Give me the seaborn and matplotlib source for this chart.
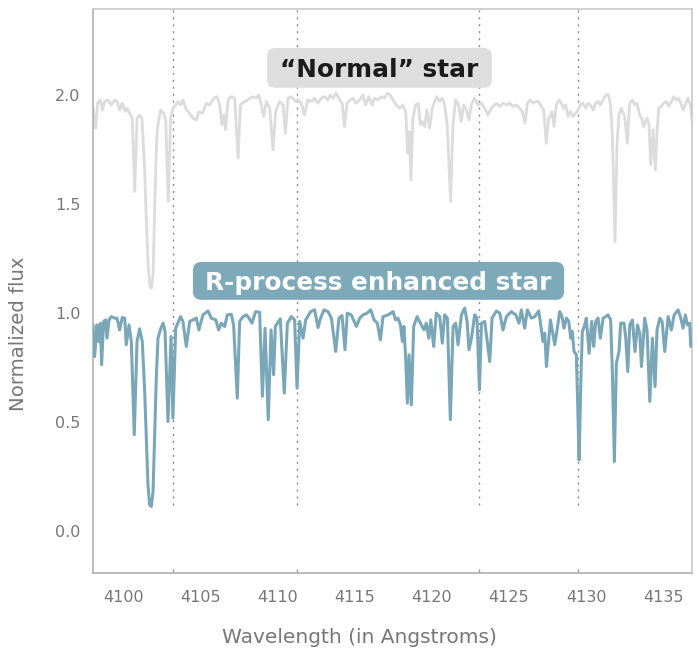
import matplotlib
matplotlib.use('Agg')
import matplotlib.pyplot as plt
from matplotlib.patches import FancyBboxPatch
import seaborn as sns
import pandas as pd

# wavelength / flux (normal star shifted up by ~1)
normal_wave = [
    4097.99, 4098.16, 4098.29, 4098.47, 4098.60, 4098.75, 4098.96, 4099.18, 4099.40, 4099.55,
    4099.72, 4099.89, 4100.07, 4100.22, 4100.37, 4100.54, 4100.70, 4100.85, 4101.02, 4101.17,
    4101.34, 4101.45, 4101.56, 4101.67, 4101.78, 4101.89, 4101.99, 4102.10, 4102.17, 4102.38,
    4102.58, 4102.71, 4102.88,
    4103.03, 4103.18, 4103.36, 4103.51, 4103.66, 4103.83, 4104.05, 4104.27, 4104.48, 4104.70,
    4104.87, 4105.09, 4105.35, 4105.57, 4105.83, 4106.04, 4106.22, 4106.37, 4106.50, 4106.60,
    4106.76, 4106.97, 4107.19, 4107.41, 4107.56, 4107.84, 4108.05, 4108.34, 4108.60, 4108.75,
    4108.92, 4109.07, 4109.25, 4109.46, 4109.68, 4109.85, 4110.11, 4110.33, 4110.48, 4110.65,
    4110.87, 4111.14, 4111.29, 4111.51, 4111.73, 4111.94, 4112.16, 4112.38, 4112.59, 4112.81,
    4113.03, 4113.24, 4113.39, 4113.57, 4113.78, 4114.00, 4114.17, 4114.32, 4114.48, 4114.69,
    4114.87, 4115.08, 4115.30, 4115.52, 4115.69, 4115.90, 4116.12, 4116.27, 4116.49, 4116.71,
    4116.92, 4117.10, 4117.29, 4117.46, 4117.68, 4117.90, 4118.11, 4118.29, 4118.42, 4118.52,
    4118.63, 4118.76, 4118.94, 4119.11, 4119.24, 4119.37, 4119.52, 4119.67, 4119.84, 4120.02,
    4120.17, 4120.32, 4120.49, 4120.67, 4120.82, 4120.99, 4121.21, 4121.36, 4121.53, 4121.73,
    4121.90, 4122.05, 4122.23, 4122.40, 4122.55, 4122.77, 4122.98, 4123.20, 4123.42, 4123.63,
    4123.85, 4124.18, 4124.39, 4124.61, 4124.83, 4125.04, 4125.26, 4125.48, 4125.69, 4125.86,
    4126.04, 4126.19, 4126.38, 4126.56, 4126.73, 4126.90, 4127.10, 4127.25, 4127.42, 4127.57,
    4127.68, 4127.79, 4127.92, 4128.07, 4128.25, 4128.40, 4128.55, 4128.68, 4128.83, 4128.98,
    4129.15, 4129.33, 4129.48, 4129.63, 4129.80, 4129.98, 4130.13, 4130.28, 4130.45, 4130.63,
    4130.78, 4130.93, 4131.10, 4131.28, 4131.45, 4131.58, 4131.71, 4131.88, 4132.01, 4132.14,
    4132.29, 4132.51, 4132.68, 4132.83, 4133.01, 4133.16, 4133.31, 4133.48, 4133.61, 4133.74,
    4133.85, 4133.96, 4134.09, 4134.20, 4134.35, 4134.50, 4134.61, 4134.72, 4134.89, 4135.04,
    4135.22, 4135.37, 4135.54, 4135.69, 4135.86, 4135.99, 4136.15, 4136.30, 4136.47, 4136.62,
    4136.77, 4136.90,
]
normal_flux = [
    1.947, 1.847, 1.962, 1.977, 1.931, 1.970, 1.977, 1.954, 1.977, 1.970,
    1.931, 1.962, 1.924, 1.939, 1.916, 1.893, 1.557, 1.893, 1.908, 1.893,
    1.664, 1.434, 1.236, 1.129, 1.113, 1.174, 1.465, 1.740, 1.847, 1.931,
    1.916, 1.885, 1.511,
    1.893, 1.939, 1.954, 1.970, 1.954, 1.977, 1.931, 1.916, 1.893, 1.885,
    1.924, 1.916, 1.962, 1.954, 1.985, 1.992, 1.954, 1.863, 1.908, 1.840,
    1.977, 1.992, 1.985, 1.710, 1.954, 1.970, 1.977, 1.992, 1.985, 2.000,
    1.954, 1.901, 1.970, 1.939, 1.748, 1.924, 1.970, 1.954, 1.824, 1.985,
    1.992, 1.970, 1.977, 1.962, 1.908, 1.977, 1.970, 1.985, 1.962, 1.985,
    1.992, 1.977, 2.000, 1.985, 2.008, 1.977, 1.962, 1.855, 1.962, 1.977,
    1.985, 1.962, 1.977, 2.000, 1.954, 1.992, 1.954, 1.985, 1.977, 1.992,
    1.985, 2.008, 2.000, 1.977, 1.954, 1.939, 1.954, 1.924, 1.733, 1.832,
    1.610, 1.893, 1.954, 1.962, 1.863, 1.878, 1.855, 1.931, 1.847, 1.939,
    1.970, 1.992, 1.970, 1.985, 1.954, 1.863, 1.511, 1.863, 1.977, 1.954,
    1.878, 1.954, 1.931, 1.885, 1.954, 1.985, 1.954, 1.962, 1.939, 1.908,
    1.939, 1.962, 1.947, 1.962, 1.954, 1.962, 1.947, 1.954, 1.939, 1.924,
    1.870, 1.962, 1.977, 1.962, 1.970, 1.970, 1.947, 1.931, 1.778, 1.893,
    1.901, 1.924, 1.855, 1.954, 1.977, 1.962, 1.939, 1.954, 1.901, 1.924,
    1.901, 1.916, 1.931, 1.954, 1.962, 1.939, 1.962, 1.954, 1.931, 1.962,
    1.970, 1.954, 1.977, 2.000, 2.000, 1.962, 1.817, 1.327, 1.771, 1.908,
    1.939, 1.901, 1.778, 1.962, 1.977, 1.954, 1.962, 1.908, 1.893, 1.855,
    1.878, 1.893, 1.863, 1.679, 1.840, 1.656, 1.832, 1.939, 1.947, 1.962,
    1.970, 1.947, 1.970, 1.992, 1.977, 1.985, 1.962, 1.931, 1.962, 1.985,
    1.954, 1.880,
]

rproc_wave = [
    4097.99, 4098.10, 4098.25, 4098.36, 4098.47, 4098.55, 4098.68, 4098.81, 4098.90, 4099.03,
    4099.18, 4099.40, 4099.55, 4099.72, 4099.89, 4100.05, 4100.15, 4100.33, 4100.48, 4100.67,
    4100.85, 4101.02, 4101.19, 4101.34, 4101.45, 4101.56, 4101.67, 4101.78, 4101.89, 4101.99,
    4102.10, 4102.21, 4102.38, 4102.54,
    4102.67, 4102.86, 4103.06, 4103.18, 4103.36, 4103.68, 4103.83, 4104.05, 4104.27, 4104.48,
    4104.70, 4104.87, 4105.13, 4105.46, 4105.67, 4105.96, 4106.15, 4106.32, 4106.54, 4106.71,
    4106.97, 4107.12, 4107.36, 4107.51, 4107.73, 4107.95, 4108.12, 4108.31, 4108.55, 4108.81,
    4108.99, 4109.16, 4109.37, 4109.55, 4109.72, 4109.83, 4110.15, 4110.41, 4110.61, 4110.87,
    4111.08, 4111.24, 4111.41, 4111.63, 4111.80, 4112.12, 4112.38, 4112.60, 4112.75, 4112.99,
    4113.25, 4113.47, 4113.75, 4113.96, 4114.16, 4114.35, 4114.50, 4114.76, 4115.09, 4115.31,
    4115.52, 4115.78, 4116.02, 4116.24, 4116.45, 4116.65, 4116.82, 4117.15, 4117.47, 4117.64,
    4117.79, 4117.95, 4118.08, 4118.18, 4118.29, 4118.40, 4118.51, 4118.66, 4118.81, 4119.03,
    4119.31, 4119.48, 4119.63, 4119.79, 4119.92, 4120.11, 4120.28, 4120.50, 4120.67, 4120.82,
    4121.00, 4121.19, 4121.37, 4121.54, 4121.69, 4121.91, 4122.12, 4122.28, 4122.40, 4122.56,
    4122.77, 4122.92, 4123.08, 4123.21, 4123.42, 4123.75, 4123.90, 4124.18, 4124.40, 4124.61,
    4124.83, 4125.15, 4125.44, 4125.65, 4125.80, 4126.02, 4126.19, 4126.45, 4126.67, 4126.93,
    4127.21, 4127.32, 4127.43, 4127.56, 4127.69, 4127.82, 4127.97, 4128.12, 4128.29, 4128.44,
    4128.57, 4128.73, 4128.88, 4129.01, 4129.11, 4129.22, 4129.37, 4129.46, 4129.55, 4129.68,
    4129.76, 4129.89, 4130.02, 4130.20, 4130.37, 4130.50, 4130.63, 4130.78, 4130.93, 4131.11,
    4131.28, 4131.43, 4131.60, 4131.71, 4131.84, 4131.97, 4132.14, 4132.25, 4132.47, 4132.58,
    4132.71, 4132.84, 4133.01, 4133.18, 4133.34, 4133.49, 4133.60, 4133.81, 4133.96, 4134.14,
    4134.31, 4134.48, 4134.61, 4134.79, 4134.94, 4135.11, 4135.33, 4135.54, 4135.72, 4135.98,
    4136.15, 4136.30, 4136.45, 4136.58, 4136.73, 4136.80, 4136.90,
]
rproc_flux = [
    0.945, 0.800, 0.945, 0.869, 0.953, 0.762, 0.961, 0.968, 0.884, 0.968,
    0.983, 0.976, 0.976, 0.922, 0.979, 0.976, 0.854, 0.945, 0.869, 0.441,
    0.869, 0.927, 0.869, 0.655, 0.425, 0.210, 0.120, 0.112, 0.180, 0.425,
    0.700, 0.884, 0.927, 0.953,
    0.915, 0.502, 0.892, 0.517, 0.930, 0.983, 0.961, 0.846, 0.961, 0.968,
    0.976, 0.922, 0.991, 1.009, 0.976, 0.968, 0.922, 0.953, 0.938, 0.991,
    0.994, 0.945, 0.609, 0.961, 0.983, 0.991, 0.976, 0.953, 1.006, 1.003,
    0.617, 0.930, 0.510, 0.922, 0.716, 0.938, 0.973, 0.632, 0.953, 0.983,
    0.968, 0.655, 0.961, 0.884, 0.968, 1.006, 1.014, 0.933, 0.973, 1.014,
    1.006, 0.976, 0.823, 0.976, 0.988, 0.831, 0.999, 0.991, 0.938, 0.976,
    0.991, 0.999, 1.014, 0.968, 0.953, 0.876, 0.983, 0.991, 1.006, 0.968,
    0.976, 0.945, 0.869, 0.938, 0.792, 0.586, 0.808, 0.578, 0.938, 0.983,
    0.945, 0.922, 0.953, 0.884, 0.968, 0.846, 0.999, 0.983, 0.861, 0.991,
    0.976, 0.510, 0.938, 0.953, 0.854, 0.991, 1.022, 0.961, 0.831, 0.884,
    0.991, 0.976, 0.647, 0.953, 0.961, 0.777, 0.976, 1.009, 0.999, 0.922,
    0.983, 1.006, 0.991, 0.953, 1.014, 0.930, 1.014, 0.976, 0.983, 1.009,
    0.869, 0.907, 0.754, 0.861, 0.968, 0.915, 0.854, 0.922, 1.006, 0.983,
    0.930, 0.976, 0.961, 0.884, 0.915, 0.823, 0.808, 0.578, 0.326, 0.731,
    0.915, 0.938, 0.976, 0.815, 0.961, 0.846, 0.961, 0.976, 0.884, 0.976,
    0.983, 0.991, 0.968, 0.731, 0.318, 0.769, 0.823, 0.953, 0.953, 0.884,
    0.731, 0.945, 0.968, 0.823, 0.945, 0.907, 0.754, 0.976, 0.922, 0.594,
    0.884, 0.662, 0.922, 0.976, 0.961, 0.823, 0.983, 0.922, 0.991, 1.014,
    0.976, 0.930, 0.991, 0.945, 0.953, 0.846, 0.850,
]

marker_lines = [4103.2, 4111.25, 4123.08, 4129.5]
x_ticks = [4100, 4105, 4110, 4115, 4120, 4125, 4130, 4135]
y_ticks = [0.0, 0.5, 1.0, 1.5, 2.0]

normal_df = pd.DataFrame({'wave': normal_wave, 'flux': normal_flux})
rproc_df = pd.DataFrame({'wave': rproc_wave, 'flux': rproc_flux})

sns.set_theme(style='white')
plt.rcParams['font.family'] = ['DejaVu Sans']

grey_line = '#dcdcdc'
blue_line = '#7aa7b8'
text_grey = '#777777'

fig = plt.figure(figsize=(6.98, 6.59), dpi=100)
ax = fig.add_axes([0.1332, 0.1305, 0.8582, 0.8558])

ax.vlines(marker_lines, 0.12, 2.4, colors='#8c8c8c', linestyles=(0, (1.5, 3.5)), lw=1.0, zorder=1)

sns.lineplot(data=normal_df, x='wave', y='flux', color=grey_line, lw=2.0, sort=False, ax=ax, zorder=2)
sns.lineplot(data=rproc_df, x='wave', y='flux', color=blue_line, lw=2.2, sort=False, ax=ax, zorder=3)

ax.set_xlim(4097.99, 4136.88)
ax.set_ylim(-0.193, 2.394)
ax.set_xticks(x_ticks)
ax.set_xticks(marker_lines, minor=True)
ax.set_yticks(y_ticks)
ax.set_xticklabels([str(t) for t in x_ticks])
ax.set_yticklabels([f'{t:.1f}' for t in y_ticks])

ax.tick_params(axis='both', which='major', direction='in', color='#9a9a9a', width=1,
               labelcolor=text_grey, labelsize=11.5)
ax.tick_params(axis='y', which='major', length=7.5, pad=9)
ax.tick_params(axis='x', which='major', length=9, pad=12)
ax.tick_params(axis='x', which='minor', direction='in', length=3, color='#9a9a9a', width=1, bottom=True)

for side, spine in ax.spines.items():
    spine.set_color('#c8c8c8')
    spine.set_linewidth(1.2)
ax.spines['left'].set_color('#b0b0b0')
ax.spines['bottom'].set_color('#b0b0b0')

ax.set_xlabel('Wavelength (in Angstroms)', fontsize=14.5, color=text_grey)
ax.set_ylabel('Normalized flux', fontsize=14.2, color=text_grey)
ax.xaxis.set_label_coords(0.444, -0.097)
ax.yaxis.set_label_coords(-0.108, 0.424)

# label boxes
aspect = (1 / 218) / (1 / 15.4)
labels = [
    ('\u201cNormal\u201d star', 4116.59, 2.124, 14.6, 0.183, '#dedede', '#1b1b1b'),
    ('R-process enhanced star', 4116.53, 1.147, 24.1, 0.174, '#7ea9b9', 'white'),
]
for txt, cx, cy, w, h, fc, tc in labels:
    box = FancyBboxPatch((cx - w / 2, cy - h / 2), w, h,
                         boxstyle='round,pad=0,rounding_size=0.55',
                         mutation_aspect=aspect, fc=fc, ec='none', zorder=4)
    ax.add_patch(box)
    ax.text(cx, cy, txt, ha='center', va='center_baseline', fontsize=17.8,
            fontweight='bold', color=tc, zorder=5)

fig.savefig('out.png', dpi=100)
